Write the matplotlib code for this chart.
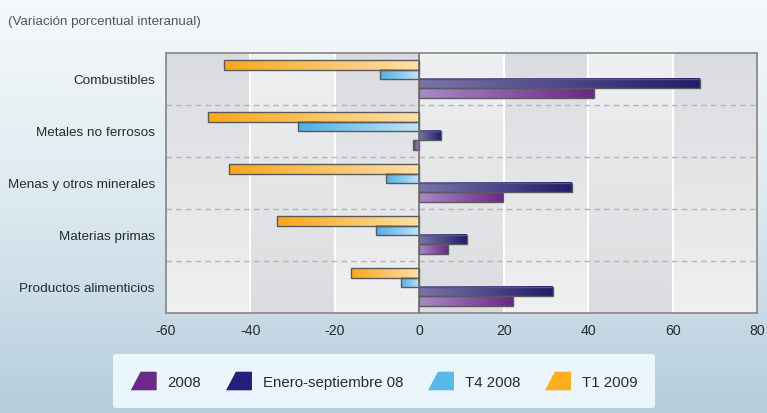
import numpy as np
import matplotlib
matplotlib.use("Agg")
import matplotlib.pyplot as plt
from matplotlib.colors import LinearSegmentedColormap
from matplotlib.patches import Patch, Polygon
from matplotlib.legend_handler import HandlerBase

plt.rcParams['font.family'] = ['Liberation Sans', 'DejaVu Sans']

categories = ["Combustibles", "Metales no ferrosos", "Menas y otros minerales",
              "Materias primas", "Productos alimenticios"]
# series, top to bottom inside each group
t1_2009 = [-46.3, -50.0, -45.1, -33.7, -16.2]
t4_2008 = [-9.2, -28.7, -8.0, -10.3, -4.3]
ene_sep_08 = [66.4, 5.1, 36.2, 11.2, 31.6]
y2008 = [41.3, -1.4, 19.9, 6.7, 22.1]
xticks = [-60, -40, -20, 0, 20, 40, 60, 80]

series = [
    ("T1 2009", t1_2009, "#fde0a8", "#fba61a"),
    ("T4 2008", t4_2008, "#c4e4f8", "#4fb0e4"),
    ("Enero-septiembre 08", ene_sep_08, "#7a74ad", "#211c6c"),
    ("2008", y2008, "#a98bc4", "#6a2788"),
]
legend_colors = {"2008": "#6a2a8a", "Enero-septiembre 08": "#22207a",
                 "T4 2008": "#5ab8e8", "T1 2009": "#fbae1e"}

fig = plt.figure(figsize=(7.67, 4.14), dpi=100)

# figure background gradient
bg = fig.add_axes([0, 0, 1, 1], zorder=-5)
bgcmap = LinearSegmentedColormap.from_list("bg", ["#f6f9fb", "#dde9f0", "#b4cedd"])
bg.imshow(np.linspace(0, 1, 256).reshape(-1, 1), cmap=bgcmap, aspect='auto',
          extent=[0, 1, 0, 1])
bg.set_axis_off()

ax = fig.add_axes([166 / 767, 1 - 314 / 414, 591 / 767, 260 / 414])
ax.set_facecolor("#e8e9eb")

# vertical bands with alternating gradient
bandcmap = LinearSegmentedColormap.from_list("band", ["#dbdcdf", "#eff0f1"])
for k, x0 in enumerate(xticks[:-1]):
    g = np.linspace(0, 1, 64).reshape(-1, 1)
    if k % 2 == 1:
        g = g[::-1]
    ax.imshow(g, cmap=bandcmap, aspect='auto', extent=[x0, x0 + 20, 4.5, -0.5],
              origin='upper', zorder=0)

for x in xticks[1:-1]:
    ax.axvline(x, color="white", lw=1.5, zorder=1)
for s in [0.5, 1.5, 2.5, 3.5]:
    ax.axhline(s, color="#b4b4b4", lw=1, ls=(0, (4, 3)), zorder=1)

h = 0.18
ypos = np.arange(len(categories))
for j, (name, vals, light, dark) in enumerate(series):
    cmap = LinearSegmentedColormap.from_list(name, [light, dark])
    off = (j - 1.5) * h
    grad = np.linspace(0, 1, 256).reshape(1, -1)
    for i, v in enumerate(vals):
        y = ypos[i] + off
        ax.imshow(grad, cmap=cmap, aspect='auto',
                  extent=[0, v, y + h / 2, y - h / 2], zorder=2)
    ax.barh(ypos + off, vals, height=h, facecolor='none', edgecolor="#5a5a5a",
            lw=1, zorder=3)

ax.axvline(0, color="#6a6a6a", lw=1.2, zorder=4)

ax.set_xlim(-60, 80)
ax.set_ylim(4.5, -0.5)
ax.set_xticks(xticks)
ax.set_xticklabels([str(t) for t in xticks])
ax.set_yticks(ypos)
ax.set_yticklabels(categories)
ax.tick_params(axis='both', length=0, colors="#2a2a2a")
ax.tick_params(axis='x', pad=7, labelsize=10.2)
ax.tick_params(axis='y', pad=8, labelsize=9.7)
for sp in ax.spines.values():
    sp.set_color("#8c8c8c")
    sp.set_linewidth(1.3)

fig.text(8 / 767, 1 - 22 / 414, "(Variación porcentual interanual)", fontsize=9.6,
         color="#555555", va='center', ha='left')


class TrapHandler(HandlerBase):
    def create_artists(self, legend, orig_handle, xdescent, ydescent, width,
                       height, fontsize, trans):
        x0, y0 = -xdescent, -ydescent
        pts = [[x0, y0], [x0 + 0.38 * width, y0 + height], [x0 + width, y0 + height],
               [x0 + width, y0]]
        p = Polygon(pts, closed=True, facecolor=orig_handle.get_facecolor(),
                    edgecolor='none', transform=trans)
        return [p]


order = ["2008", "Enero-septiembre 08", "T4 2008", "T1 2009"]
handles = [Patch(facecolor=legend_colors[n]) for n in order]
leg = fig.legend(handles, order, loc='center', bbox_to_anchor=(384 / 767, 1 - 382 / 414),
                 ncol=4, fontsize=10.8, frameon=True, fancybox=True,
                 handler_map={Patch: TrapHandler()}, handlelength=1.73,
                 handleheight=1.53, handletextpad=0.71, columnspacing=1.67,
                 borderpad=1.2, borderaxespad=0)
leg.get_frame().set_facecolor("#ebf6fc")
leg.get_frame().set_edgecolor("none")
leg.get_frame().set_alpha(1)
for t in leg.get_texts():
    t.set_color("#2a2a2a")

fig.savefig("out.png", dpi=100)
